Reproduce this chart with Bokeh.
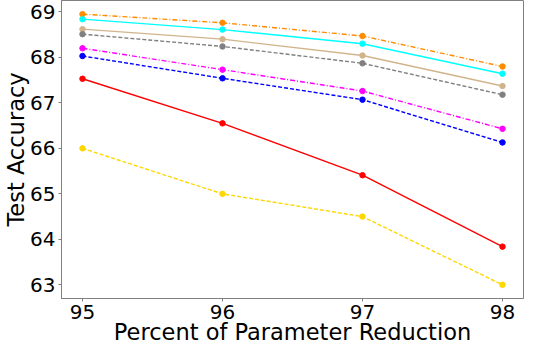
from bokeh.plotting import figure
from bokeh.models import Range1d, FixedTicker
from bokeh.embed import file_html
from bokeh.resources import INLINE

reduction = [95, 96, 97, 98]

s_orange = [68.95, 68.76, 68.47, 67.80]
s_cyan = [68.84, 68.61, 68.30, 67.64]
s_tan = [68.62, 68.40, 68.04, 67.37]
s_gray = [68.51, 68.24, 67.87, 67.18]
s_magenta = [68.20, 67.73, 67.26, 66.43]
s_blue = [68.03, 67.54, 67.07, 66.13]
s_red = [67.53, 66.55, 65.41, 63.84]
s_gold = [66.00, 65.00, 64.50, 63.00]

x_ticks = [95, 96, 97, 98]
y_ticks = [63, 64, 65, 66, 67, 68, 69]

series = [
    (s_orange, "#ff8c00", "5 2 1 2"),
    (s_cyan, "#00ffff", "solid"),
    (s_tan, "#d2b48c", "solid"),
    (s_gray, "#808080", "4 2"),
    (s_magenta, "#ff00ff", "5 2 1 2"),
    (s_blue, "#0000ff", "4 2"),
    (s_red, "#ff0000", "solid"),
    (s_gold, "#ffd700", "4 2"),
]

p = figure(width=524, height=347, output_backend="svg", toolbar_location=None,
           x_range=Range1d(94.85, 98.15), y_range=Range1d(62.70, 69.25),
           min_border_left=0, min_border_right=1, min_border_top=0, min_border_bottom=0)

for vals, col, dash in series:
    p.line(reduction, vals, line_color=col, line_width=1.4, line_dash=dash)
    p.scatter(reduction, vals, marker="circle", size=5.5, fill_color=col, line_color=col)

p.xgrid.visible = False
p.ygrid.visible = False
p.outline_line_color = "#808080"
p.outline_line_width = 1

for ax in (p.xaxis[0], p.yaxis[0]):
    ax.axis_line_color = "#808080"
    ax.major_tick_line_color = "#808080"
    ax.major_tick_out = 3
    ax.major_tick_in = 0
    ax.minor_tick_out = 0
    ax.minor_tick_in = 0
    ax.major_label_text_font = "DejaVu Sans"
    ax.major_label_text_font_size = "20px"
    ax.major_label_text_color = "black"
    ax.axis_label_text_font = "DejaVu Sans"
    ax.axis_label_text_font_size = "22.5px"
    ax.axis_label_text_font_style = "normal"
    ax.axis_label_text_color = "black"

p.xaxis.ticker = FixedTicker(ticks=x_ticks)
p.yaxis.ticker = FixedTicker(ticks=y_ticks)
p.xaxis.axis_label = "Percent of Parameter Reduction"
p.yaxis.axis_label = "Test Accuracy"
p.xaxis.major_label_standoff = 3
p.xaxis.axis_label_standoff = -3
p.yaxis.major_label_standoff = 3
p.yaxis.axis_label_standoff = -2

open("out.html", "w").write(file_html(p, INLINE))
